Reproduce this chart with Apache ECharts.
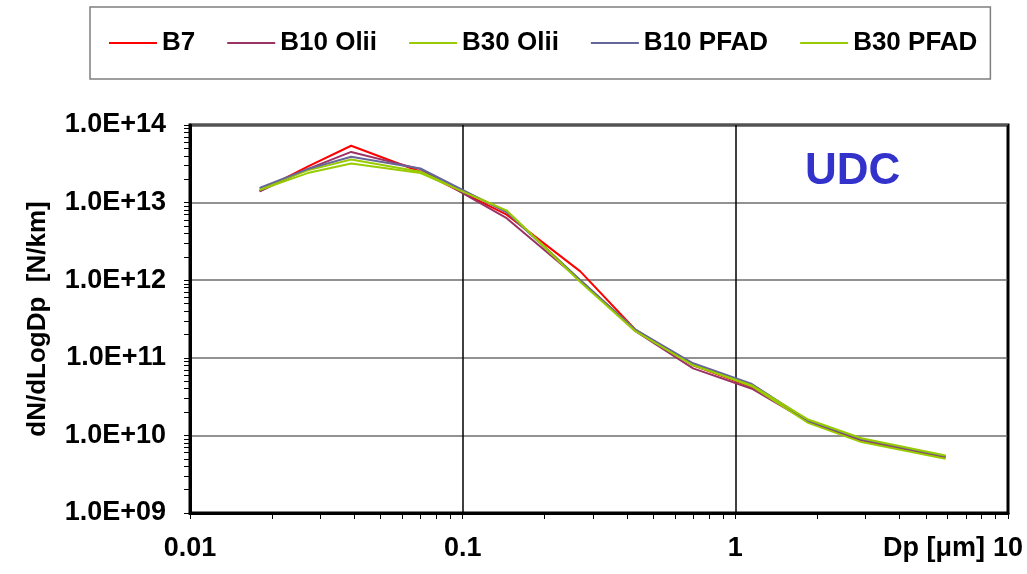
<!DOCTYPE html>
<html>
<head>
<meta charset="utf-8">
<script src="https://cdn.jsdelivr.net/npm/echarts@6/dist/echarts.min.js"></script>
<style>
  html, body { margin: 0; padding: 0; background: #fff; }
  #chart { width: 1027px; height: 574px; }
</style>
</head>
<body>
<div id="chart"></div>
<script>
// particle diameter Dp [um]
var dp = [0.018, 0.027, 0.039, 0.07, 0.145, 0.27, 0.43, 0.70, 1.15, 1.85, 2.9, 5.9];

// dN/dLogDp [N/km]
var b7     = [1.40e13, 2.9e13, 5.4e13, 2.5e13, 7.0e12, 1.30e12, 2.3e11, 8.0e10, 4.2e10, 1.55e10, 8.8e9, 5.3e9];
var b10Oli = [1.40e13, 2.7e13, 4.5e13, 2.7e13, 6.3e12, 1.00e12, 2.2e11, 7.3e10, 4.0e10, 1.50e10, 8.6e9, 5.2e9];
var b30Oli = [1.50e13, 2.6e13, 3.6e13, 2.5e13, 7.8e12, 1.00e12, 2.3e11, 8.2e10, 4.3e10, 1.45e10, 8.2e9, 5.0e9];
var b10Pf  = [1.55e13, 2.7e13, 3.9e13, 2.75e13, 7.5e12, 1.00e12, 2.3e11, 8.5e10, 4.6e10, 1.55e10, 9.0e9, 5.4e9];
var b30Pf  = [1.45e13, 2.4e13, 3.2e13, 2.4e13, 7.9e12, 0.95e12, 2.2e11, 8.0e10, 4.4e10, 1.60e10, 9.2e9, 5.5e9];

var seriesNames = ['B7', 'B10 Olii', 'B30 Olii', 'B10 PFAD', 'B30 PFAD'];
var seriesColors = ['#ff0000', '#993366', '#99cc00', '#666699', '#99cc00'];
var seriesValues = [b7, b10Oli, b30Oli, b10Pf, b30Pf];

var xTickLabels = ['0.01', '0.1', '1', '10'];
var xMinorTicks = [0.01,0.02,0.03,0.04,0.05,0.06,0.07,0.08,0.09,0.1,0.2,0.3,0.4,0.5,0.6,0.7,0.8,0.9,1,2,3,4,5,6,7,8,9,10];
var yMinorTicks = [];
for (var e = 9; e < 14; e++) {
    for (var k = 1; k < 10; k++) yMinorTicks.push(k * Math.pow(10, e));
}
yMinorTicks.push(1e14);

var FONT = 'Liberation Sans, Arial, sans-serif';

function pairs(ys) {
    var out = [];
    for (var i = 0; i < dp.length; i++) out.push([dp[i], ys[i]]);
    return out;
}

var series = [];
for (var i = 0; i < seriesNames.length; i++) {
    series.push({
        name: seriesNames[i],
        type: 'line',
        xAxisIndex: 0,
        yAxisIndex: 0,
        symbol: 'none',
        smooth: false,
        lineStyle: { color: seriesColors[i], width: 2 },
        itemStyle: { color: seriesColors[i] },
        data: pairs(seriesValues[i])
    });
}

var myChart = echarts.init(document.getElementById('chart'));
var option = {
    backgroundColor: '#fff',
    animation: false,
    legend: {
        left: 90,
        top: 7,
        padding: [23, 13, 23, 19],
        itemGap: 32,
        itemWidth: 48,
        itemHeight: 2,
        icon: 'rect',
        borderColor: '#7f7f7f',
        borderWidth: 1.5,
        textStyle: { fontFamily: FONT, fontWeight: 'bold', fontSize: 26, color: '#000' },
        data: seriesNames
    },
    grid: {
        left: 190, top: 125, right: 19, bottom: 61,
        show: true,
        borderColor: '#000',
        borderWidth: 3
    },
    xAxis: [
        {
            // main axis: labels and grid lines at the decades
            type: 'log',
            logBase: 10,
            min: 0.01,
            max: 10,
            axisLine: { show: true, lineStyle: { color: '#000', width: 3 } },
            axisTick: { show: false },
            axisLabel: {
                margin: 22,
                fontFamily: FONT, fontWeight: 'bold', fontSize: 27, color: '#000',
                formatter: function (v) { return xTickLabels[Math.round(Math.log10(v)) + 2]; }
            },
            splitLine: { show: true, lineStyle: { color: '#000', width: 1.5 } }
        },
        {
            // overlay axis only for the 1..9 ticks
            type: 'log',
            logBase: 10,
            min: 0.01,
            max: 10,
            position: 'bottom',
            axisLine: { show: false },
            axisTick: { show: true, inside: false, length: 6, customValues: xMinorTicks, lineStyle: { color: '#000', width: 1 } },
            axisLabel: { show: false },
            splitLine: { show: false }
        }
    ],
    yAxis: [
        {
            type: 'log',
            logBase: 10,
            min: 1e9,
            max: 1e14,
            name: 'dN/dLogDp  [N/km]',
            nameLocation: 'middle',
            nameRotate: 90,
            nameGap: 139,
            nameTextStyle: { fontFamily: FONT, fontWeight: 'bold', fontSize: 26, color: '#000' },
            axisLine: { show: true, lineStyle: { color: '#000', width: 3 } },
            axisTick: { show: false },
            axisLabel: {
                margin: 24,
                fontFamily: FONT, fontWeight: 'bold', fontSize: 27, color: '#000',
                formatter: function (v) {
                    var p = Math.round(Math.log10(v));
                    return '1.0E+' + (p < 10 ? '0' + p : p);
                }
            },
            splitLine: { show: true, lineStyle: { color: '#6e6e6e', width: 1.5 } }
        },
        {
            type: 'log',
            logBase: 10,
            min: 1e9,
            max: 1e14,
            position: 'left',
            axisLine: { show: false },
            axisTick: { show: true, inside: false, length: 6, customValues: yMinorTicks, lineStyle: { color: '#000', width: 1 } },
            axisLabel: { show: false },
            splitLine: { show: false }
        }
    ],
    graphic: [
        {
            type: 'text',
            right: 42,
            top: 535,
            style: { text: 'Dp [\u03bcm]', fontFamily: FONT, fontWeight: 'bold', fontSize: 27, fill: '#000' }
        },
        {
            type: 'text',
            left: 805,
            top: 150,
            style: { text: 'UDC', fontFamily: FONT, fontWeight: 'bold', fontSize: 44, fill: '#3333cc' }
        }
    ],
    series: series
};
myChart.setOption(option);
</script>
</body>
</html>
